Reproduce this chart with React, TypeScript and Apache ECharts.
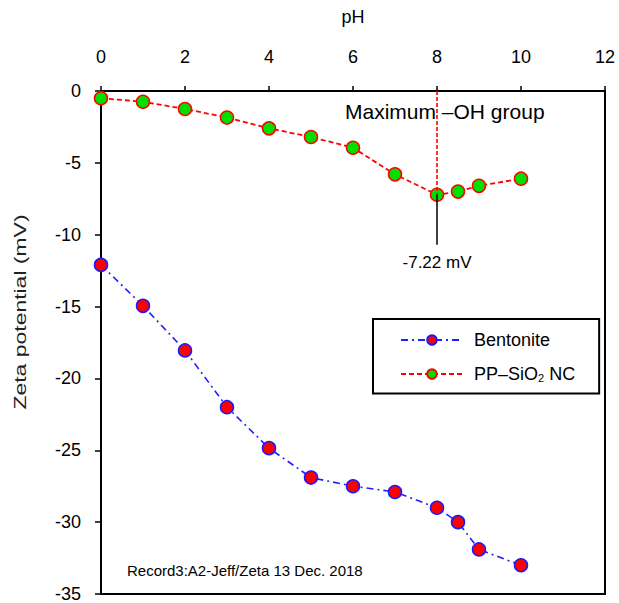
import React, { useEffect, useRef } from "react";
import * as echarts from "echarts";

const phValues = [0, 1, 2, 3, 4, 5, 6, 7, 8, 8.5, 9, 10];
const bentonite = [-12.1, -14.95, -18.05, -22.0, -24.85, -26.9, -27.5, -27.9, -29.0, -30.0, -31.9, -33.0];
const ppSiO2 = [-0.5, -0.75, -1.25, -1.85, -2.6, -3.2, -3.95, -5.8, -7.22, -7.0, -6.6, -6.1];
const minPoint = { ph: 8, value: -7.22, labelEnd: -10.7, label: "-7.22 mV" };

const FONT = "'Liberation Sans', Arial, sans-serif";

export default function App() {
  const ref = useRef<HTMLDivElement>(null);
  useEffect(() => {
    document.body.style.margin = "0";
    if (!ref.current) return;
    const chart = echarts.init(ref.current, null, { renderer: "svg" });
    const bentData = phValues.map((p, i) => [p, bentonite[i]]);
    const ppData = phValues.map((p, i) => [p, ppSiO2[i]]);
    chart.setOption({
      animation: false,
      backgroundColor: "#fff",
      textStyle: { fontFamily: FONT },
      grid: {
        left: 101,
        right: 14,
        top: 91,
        bottom: 8,
        show: true,
        borderColor: "#000",
        borderWidth: 2,
      },
      xAxis: {
        type: "value",
        position: "top",
        min: 0,
        max: 12,
        interval: 2,
        name: "pH",
        nameLocation: "middle",
        nameGap: 65,
        nameTextStyle: { fontSize: 18, color: "#000", fontFamily: FONT },
        axisLine: { show: true, lineStyle: { color: "#000", width: 2 } },
        axisTick: { show: true, inside: false, length: 5, lineStyle: { color: "#000", width: 1.5 } },
        axisLabel: { fontSize: 18, color: "#000", margin: 25, fontFamily: FONT },
        splitLine: { show: false },
      },
      yAxis: {
        type: "value",
        min: -35,
        max: 0,
        interval: 5,
        axisLine: { show: true, lineStyle: { color: "#000", width: 2 } },
        axisTick: { show: true, inside: false, length: 6, lineStyle: { color: "#000", width: 1.5 } },
        axisLabel: { fontSize: 18, color: "#000", margin: 20, fontFamily: FONT },
        splitLine: { show: false },
      },
      legend: {
        orient: "vertical",
        left: 373,
        top: 319,
        backgroundColor: "#fff",
        borderColor: "#000",
        borderWidth: 2,
        borderRadius: 0,
        padding: [12, 24, 10, 27],
        itemGap: 16,
        itemWidth: 62,
        itemHeight: 12,
        data: ["Bentonite", "PP–SiO2 NC"],
        formatter: (name: string) =>
          name === "PP–SiO2 NC" ? "PP–SiO{sub|2} NC" : name,
        textStyle: {
          fontSize: 18,
          color: "#000",
          fontFamily: FONT,
          padding: [0, 0, 0, 6],
          rich: {
            sub: { fontSize: 11, verticalAlign: "bottom", padding: [8, 0, 0, 0], color: "#000", fontFamily: FONT },
          },
        },
      },
      series: [
        {
          name: "Bentonite",
          type: "line",
          data: bentData,
          symbol: "circle",
          symbolSize: 13,
          itemStyle: { color: "#ff0000", borderColor: "#1a1aff", borderWidth: 1.5 },
          lineStyle: { color: "#2020ff", width: 1.6, type: [7, 4, 2, 4] },
          z: 3,
        },
        {
          name: "PP–SiO2 NC",
          type: "line",
          data: ppData,
          symbol: "circle",
          symbolSize: 13,
          itemStyle: { color: "#00e000", borderColor: "#ff0000", borderWidth: 1.5 },
          lineStyle: { color: "#ff0000", width: 1.8, type: [5, 3] },
          z: 4,
          markLine: {
            silent: true,
            symbol: ["none", "none"],
            animation: false,
            data: [
              [
                { coord: [minPoint.ph, 0], lineStyle: { color: "#ff0000", width: 1.6, type: [4, 2] }, label: { show: false } },
                { coord: [minPoint.ph, minPoint.value] },
              ],
              [
                {
                  coord: [minPoint.ph, minPoint.value],
                  lineStyle: { color: "#000", width: 1.5, type: "solid" },
                  label: {
                    show: true,
                    position: "end",
                    formatter: minPoint.label,
                    fontSize: 17,
                    color: "#000",
                    fontFamily: FONT,
                    distance: 9,
                  },
                },
                { coord: [minPoint.ph, minPoint.labelEnd] },
              ],
            ],
          },
        },
      ],
      graphic: [
        {
          type: "text",
          left: 345,
          top: 101,
          z: 10,
          style: { text: "Maximum –OH group", fill: "#000", font: `21px ${FONT}` },
        },
        {
          type: "text",
          left: 127,
          top: 563,
          style: { text: "Record3:A2-Jeff/Zeta 13 Dec. 2018", fill: "#000", font: `15px ${FONT}` },
        },
        {
          type: "text",
          x: 20,
          y: 312,
          rotation: Math.PI / 2,
          scaleX: 1.35,
          style: {
            text: "Zeta potential (mV)",
            fill: "#222",
            font: `17px ${FONT}`,
            align: "center",
            verticalAlign: "middle",
          },
        },
      ],
    });
    return () => chart.dispose();
  }, []);
  return <div ref={ref} style={{ width: 619, height: 603 }} />;
}
